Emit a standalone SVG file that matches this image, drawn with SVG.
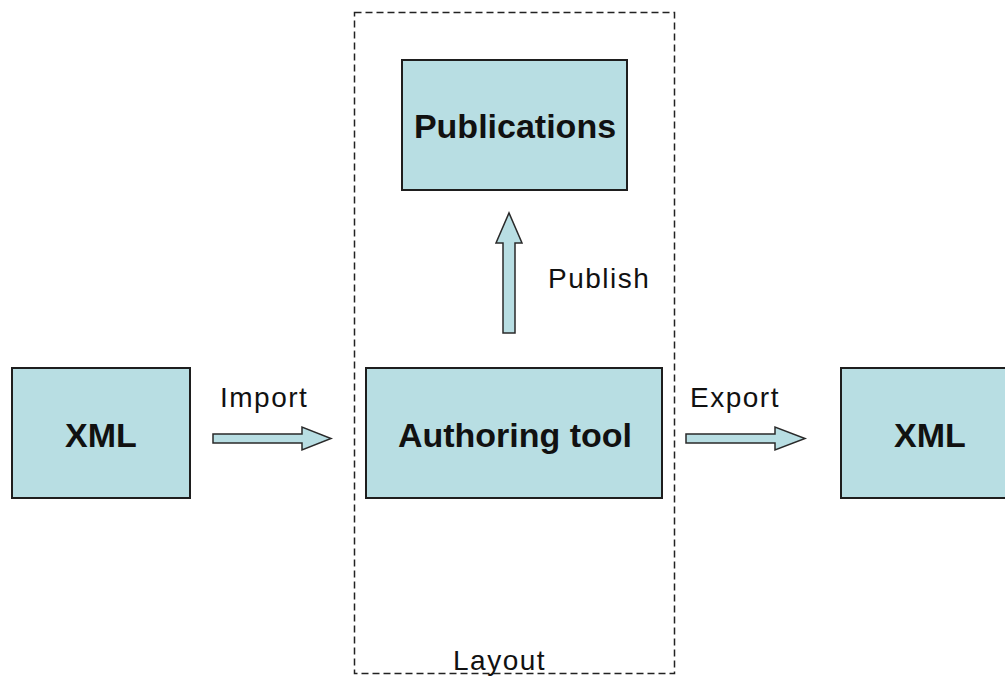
<svg xmlns="http://www.w3.org/2000/svg" width="1005" height="677" viewBox="0 0 1005 677">
<style>
.box{fill:#b8dee3;stroke:#1e1e1e;stroke-width:2}
.arrow{fill:#b8dee3;stroke:#2a2a2a;stroke-width:1.5;stroke-linejoin:miter}
.big{font-family:"Liberation Sans",Arial,sans-serif;font-weight:bold;font-size:34px;fill:#111;text-anchor:middle}
.lbl{font-family:"Liberation Sans",Arial,sans-serif;font-size:28px;fill:#111;letter-spacing:1.5px}
.group{fill:none;stroke:#222;stroke-width:1.5;stroke-dasharray:7 4}
</style>
<rect fill="#ffffff" x="0" y="0" width="1005" height="677"/>
<g id="layout">
<rect class="group" x="354.5" y="12.5" width="320" height="661"/>
<text class="lbl" x="453" y="670">Layout</text>
</g>
<g id="publications">
<rect class="box" x="402" y="60" width="225" height="130"/>
<text class="big" x="515" y="138">Publications</text>
</g>
<g id="authoring">
<rect class="box" x="366" y="368" width="296" height="130"/>
<text class="big" x="515" y="447">Authoring tool</text>
</g>
<g id="xml-in">
<rect class="box" x="12" y="368" width="178" height="130"/>
<text class="big" x="101" y="447">XML</text>
</g>
<g id="xml-out">
<rect class="box" x="841" y="368" width="178" height="130"/>
<text class="big" x="930" y="447">XML</text>
</g>
<g id="connectors">
<path class="arrow" d="M213,434 H302 V427 L331,438.5 L302,450 V443 H213 Z"/>
<text class="lbl" x="220" y="407">Import</text>
<path class="arrow" d="M686,434 H775 V427 L805,438.5 L775,450 V443 H686 Z"/>
<text class="lbl" x="690" y="407">Export</text>
<path class="arrow" d="M503,333 V243 H496 L509,213 L522,243 H515 V333 Z"/>
<text class="lbl" x="548" y="288">Publish</text>
</g>
</svg>
